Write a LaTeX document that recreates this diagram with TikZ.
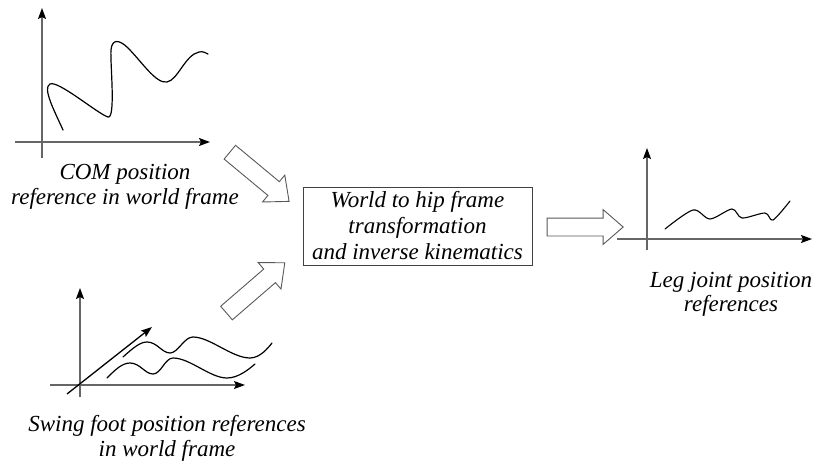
\documentclass[tikz,border=0pt]{standalone}
\usepackage{fontspec}
\setmainfont{Liberation Serif}
\usetikzlibrary{arrows.meta,shapes.arrows}
\begin{document}
\begin{tikzpicture}[x=1pt,y=-1pt,
  axis/.style={draw=black!60,line width=1.3pt,-{Stealth[black,length=11pt,width=8pt,inset=2pt]}},
  curve/.style={draw=black,line width=1.2pt,line cap=round},
  blockarrow/.style={single arrow,draw=black!65,line width=0.9pt,fill=white,inner xsep=0pt,inner ysep=8.5pt,
    minimum width=34pt,single arrow head extend=8.5pt,single arrow tip angle=82},
  lbl/.style={font=\fontsize{23}{26}\selectfont\itshape,anchor=base,inner sep=0pt},
  boxstyle/.style={draw=black!75,line width=0.9pt,minimum width=229pt,minimum height=78pt,
    font=\fontsize{23}{26}\selectfont\itshape,align=center,inner sep=0pt}]
\useasboundingbox (0,0) rectangle (814,463);
% ---------- graph 1 ----------
\coordinate (g1yb) at (42,158);
\coordinate (g1yt) at (42,8);
\coordinate (g1xl) at (15,142);
\coordinate (g1xr) at (210,142);
\draw[axis] (g1yb) -- (g1yt);
\draw[axis] (g1xl) -- (g1xr);
\draw[curve] (63,130) .. controls (55,112) and (42,88) .. (50,84)
  .. controls (58,80) and (98,114) .. (108,117)
  .. controls (116,119) and (110,62) .. (111,50)
  .. controls (112,38) and (120,40) .. (128,48)
  .. controls (142,62) and (156,84) .. (167,82)
  .. controls (178,80) and (185,55) .. (199,52)
  .. controls (203,51) and (206,53) .. (208,54);
\node[lbl] (t1a) at (125,179) {COM position};
\node[lbl] (t1b) at (125,204) {reference in world frame};
% ---------- graph 2 ----------
\coordinate (g2yb) at (80,397);
\coordinate (g2yt) at (80,288);
\coordinate (g2xl) at (50,385);
\coordinate (g2xr) at (245,385);
\coordinate (g2zl) at (67,394);
\coordinate (g2zr) at (152,327);
\draw[axis] (g2yb) -- (g2yt);
\draw[axis] (g2xl) -- (g2xr);
\draw[axis,draw=black] (g2zl) -- (g2zr);
\draw[curve] (123,357) .. controls (133,348) and (140,342) .. (147,342)
  .. controls (157,342) and (162,353) .. (170,353)
  .. controls (178,353) and (184,337) .. (193,337)
  .. controls (210,337) and (232,358) .. (250,358)
  .. controls (260,358) and (268,348) .. (272,343);
\draw[curve] (107,378) .. controls (115,370) and (122,363) .. (130,363)
  .. controls (140,363) and (145,374) .. (153,374)
  .. controls (161,374) and (165,358) .. (173,358)
  .. controls (190,358) and (210,378) .. (227,378)
  .. controls (238,378) and (248,370) .. (255,364);
\node[lbl] (t2a) at (167,431) {Swing foot position references};
\node[lbl] (t2b) at (167,456) {in world frame};
% ---------- central box ----------
\node[boxstyle] (box) at (417.5,226) {World to hip frame\\ transformation\\ and inverse kinematics};
% ---------- block arrows ----------
\node[blockarrow,minimum height=77pt,rotate=-39.7] (a1) at (255.5,173.5) {};
\node[blockarrow,minimum height=77pt,rotate=40.8] (a2) at (251.75,291.25) {};
\node[blockarrow,minimum height=76pt] (a3) at (580,227) {};
% ---------- graph 3 ----------
\coordinate (g3yb) at (647,250);
\coordinate (g3yt) at (647,148);
\coordinate (g3xl) at (617,239);
\coordinate (g3xr) at (812,239);
\draw[axis] (g3yb) -- (g3yt);
\draw[axis] (g3xl) -- (g3xr);
\draw[curve,line width=1.1pt] plot[smooth,tension=0.5] coordinates {(665,229) (693,210) (710,219) (732,209) (742,218) (765,213) (773,220) (790,201)};
\node[lbl] (t3a) at (731,287) {Leg joint position};
\node[lbl] (t3b) at (731,311) {references};
\end{tikzpicture}
\end{document}
